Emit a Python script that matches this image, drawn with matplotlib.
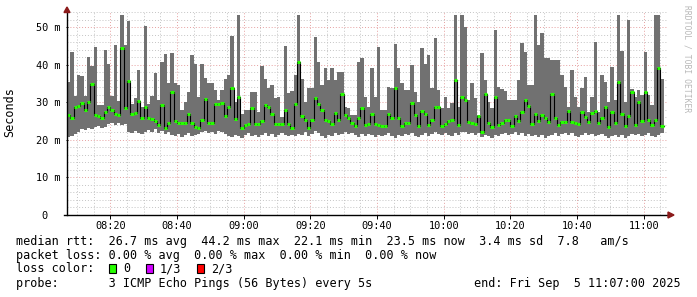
import matplotlib
matplotlib.use("Agg")
import matplotlib.pyplot as plt
from matplotlib.patches import Polygon, Rectangle
import numpy as np

W, H = 697, 297

# time axis: one bar per minute starting at 08:07
start_min = 8 * 60 + 7
step_min = 1

# per-minute ping stats (ms)
ping_max = [
    35.5, 43.4, 31.6, 37.2, 37.0, 31.6, 42.1, 39.6, 44.8, 29.3,
    29.3, 43.9, 40.2, 31.6, 45.2, 30.4, 53.2, 45.2, 51.7, 29.6,
    31.0, 38.7, 28.8, 50.3, 29.6, 31.6, 37.7, 30.6, 40.8, 42.8,
    35.0, 43.0, 35.0, 34.7, 27.9, 30.1, 32.8, 42.6, 40.2, 31.3,
    40.2, 36.4, 35.0, 35.0, 33.3, 30.6, 33.3, 36.3, 37.2, 47.6,
    30.0, 53.2, 27.0, 27.9, 27.9, 32.8, 32.8, 27.5, 39.6, 36.1,
    33.7, 34.6, 31.0, 31.5, 26.1, 44.9, 32.4, 33.1, 37.2, 53.2,
    36.1, 30.0, 33.7, 33.7, 47.4, 40.8, 34.6, 39.0, 35.9, 39.0,
    35.9, 38.1, 38.1, 28.8, 28.4, 26.6, 26.6, 40.8, 41.7, 31.5,
    28.8, 39.0, 31.5, 44.8, 27.9, 27.9, 34.0, 33.7, 45.5, 39.0,
    35.0, 33.2, 33.2, 39.9, 32.8, 30.1, 44.3, 40.3, 42.6, 33.7,
    47.0, 33.2, 28.4, 31.5, 28.4, 29.7, 53.2, 28.8, 53.2, 50.1,
    30.6, 35.0, 31.0, 26.6, 43.0, 36.0, 30.1, 28.4, 49.2, 34.1,
    33.5, 33.1, 30.6, 30.6, 30.6, 35.9, 45.7, 43.4, 34.6, 34.6,
    53.2, 45.2, 48.3, 41.7, 41.7, 41.3, 41.1, 41.3, 37.2, 34.1,
    28.8, 38.7, 31.5, 28.8, 33.7, 36.6, 27.5, 31.5, 46.1, 27.5,
    37.2, 35.4, 30.1, 39.4, 30.6, 53.2, 43.7, 30.1, 52.0, 33.6,
    31.5, 33.2, 31.9, 43.4, 31.9, 29.3, 53.2, 53.2, 36.1,
]
ping_med = [
    26.6, 25.7, 28.8, 29.1, 29.9, 27.9, 30.0, 34.8, 26.6, 26.3,
    25.9, 27.5, 28.8, 27.9, 26.9, 26.6, 44.3, 28.4, 35.7, 27.0,
    27.2, 30.4, 25.7, 28.8, 25.7, 25.5, 25.0, 23.9, 29.3, 23.1,
    24.6, 32.6, 25.0, 24.4, 24.6, 24.6, 27.0, 24.5, 23.3, 23.1,
    25.2, 30.8, 24.6, 24.4, 29.6, 29.6, 29.9, 26.3, 28.8, 33.9,
    25.5, 31.5, 23.1, 23.9, 24.2, 28.4, 24.2, 24.2, 25.1, 29.3,
    28.6, 27.0, 24.1, 24.1, 24.1, 27.8, 24.1, 23.2, 29.4, 40.8,
    26.3, 25.2, 23.1, 25.3, 31.2, 29.5, 27.9, 25.3, 25.1, 24.2,
    27.2, 25.4, 32.1, 26.6, 25.7, 24.6, 23.7, 25.7, 28.4, 23.9,
    24.2, 27.0, 24.2, 23.9, 23.7, 23.7, 26.8, 25.7, 33.7, 25.7,
    23.7, 24.6, 24.6, 29.9, 26.6, 23.7, 27.7, 26.9, 23.9, 25.3,
    28.8, 28.6, 23.7, 24.2, 25.0, 25.4, 35.9, 23.9, 31.3, 30.6,
    24.8, 24.6, 24.2, 26.3, 22.2, 32.1, 24.4, 23.5, 31.5, 23.9,
    24.4, 25.3, 25.4, 23.7, 26.3, 25.1, 27.5, 30.6, 29.0, 24.2,
    26.9, 25.1, 26.6, 25.7, 24.8, 32.1, 25.9, 23.9, 24.8, 24.8,
    27.7, 24.8, 24.4, 24.2, 27.5, 26.2, 24.8, 27.2, 27.7, 24.6,
    25.7, 28.8, 23.5, 27.5, 24.6, 35.5, 27.0, 23.7, 26.3, 32.8,
    23.9, 30.0, 25.1, 32.6, 25.3, 23.9, 25.4, 39.0, 23.6,
]
ping_min = [
    20.8, 21.0, 21.6, 22.2, 22.9, 22.6, 23.1, 22.8, 23.4, 23.6,
    23.2, 23.5, 24.2, 24.5, 24.0, 24.4, 23.9, 24.3, 22.0, 21.7,
    22.3, 21.9, 21.5, 22.1, 22.6, 22.2, 22.8, 21.9, 22.4, 21.6,
    22.1, 21.2, 21.0, 21.5, 20.8, 21.3, 21.7, 20.9, 21.2, 21.6,
    22.0, 22.3, 21.8, 22.2, 21.6, 22.4, 22.0, 21.5, 21.0, 20.7,
    21.2, 20.9, 20.6, 21.3, 21.8, 21.0, 21.4, 20.8, 21.2, 21.7,
    21.1, 21.5, 20.7, 21.3, 21.9, 21.2, 20.9, 21.4, 21.0, 21.6,
    21.3, 22.0, 21.1, 21.5, 22.3, 21.7, 21.0, 20.6, 21.4, 21.1,
    21.8, 21.3, 21.6, 22.1, 21.5, 21.9, 21.2, 20.8, 21.5, 21.0,
    21.6, 21.2, 20.7, 21.3, 20.9, 21.4, 21.8, 21.1, 20.6, 21.3,
    20.9, 21.5, 21.2, 21.7, 21.0, 20.8, 21.4, 21.9, 21.1, 21.5,
    22.0, 21.6, 21.2, 21.8, 21.4, 21.0, 21.7, 21.3, 22.2, 22.0,
    21.5, 21.9, 21.3, 21.7, 20.8, 21.4, 21.0, 20.6, 21.2, 20.9,
    21.5, 21.8, 21.2, 21.6, 22.0, 21.3, 21.7, 21.1, 21.5, 20.9,
    21.3, 20.8, 21.2, 20.6, 21.0, 21.4, 21.7, 21.1, 21.5, 21.9,
    21.3, 21.7, 21.0, 20.7, 21.4, 21.8, 21.2, 21.5, 20.9, 21.3,
    21.6, 21.1, 20.6, 21.0, 21.4, 20.8, 21.2, 20.6, 21.0, 21.5,
    21.2, 21.6, 21.0, 21.4, 21.8, 21.1, 20.7, 21.2, 21.9,
]

time_labels = ["08:20", "08:40", "09:00", "09:20", "09:40", "10:00", "10:20", "10:40", "11:00"]
ytick_vals = [0, 10, 20, 30, 40, 50]
ytick_labels = ["0  ", "10 m", "20 m", "30 m", "40 m", "50 m"]

legend_rtt = "median rtt:  26.7 ms avg  44.2 ms max  22.1 ms min  23.5 ms now  3.4 ms sd  7.8   am/s"
legend_loss = "packet loss: 0.00 % avg  0.00 % max  0.00 % min  0.00 % now"
loss_labels = ["0", "1/3", "2/3"]
loss_colors = ["#26ff00", "#d000ff", "#ff0000"]
probe_text = "probe:       3 ICMP Echo Pings (56 Bytes) every 5s"
end_text = "end: Fri Sep  5 11:07:00 2025"

plt.rcParams["font.family"] = ["DejaVu Sans Mono"]


def fx(px):
    return px / W


def fy(py):
    return 1 - py / H


fig = plt.figure(figsize=(W / 100, H / 100), dpi=100)
fig.patch.set_facecolor("white")
ax = fig.add_axes([fx(67), fy(215), 600 / W, 203 / H])

# smoke + median
n = len(ping_med)
t = start_min + step_min * np.arange(n)
te = np.append(t, t[-1] + step_min)
lo = np.append(ping_min, ping_min[-1])
hi = np.append(ping_max, ping_max[-1])
med = np.array(ping_med)
ax.fill_between(te, lo, hi, step="post", color="#717171", lw=0, zorder=2)
ax.step(te, np.append(med, med[-1]), where="post", color="black", lw=0.8, zorder=3)
ax.hlines(med, t, t + step_min, colors=loss_colors[0], lw=2.2, zorder=4)

ax.set_xlim(start_min, start_min + 180)
ax.set_ylim(0, 54)

major_x = [int(s[:2]) * 60 + int(s[3:]) for s in time_labels]
ax.set_xticks(major_x)
ax.set_xticklabels(time_labels)
ax.set_xticks(np.arange(490, start_min + 181, 5), minor=True)
ax.set_yticks(ytick_vals)
ax.set_yticklabels(ytick_labels)
ax.set_yticks(np.arange(0, 55, 2), minor=True)

ax.grid(which="minor", color="#c4c4c4", ls=(0, (1, 2)), lw=0.7)
ax.grid(which="major", color="#e6a0a0", ls=(0, (1, 2)), lw=0.7)
ax.set_axisbelow(True)

for s in ax.spines.values():
    s.set_visible(False)
ax.tick_params(axis="x", which="major", direction="out", length=3, width=0.7,
               pad=1.3, labelsize=7.4)
ax.tick_params(axis="y", which="major", direction="inout", length=2, width=0.7,
               pad=4, labelsize=7.4)
ax.tick_params(which="minor", length=0)

# axis lines with arrows
ax.plot([0, 0], [0, 1.0], transform=ax.transAxes, color="black", lw=1,
        clip_on=False, zorder=5)
ax.plot([-0.005, 1.002], [0, 0], transform=ax.transAxes, color="black", lw=1,
        clip_on=False, zorder=5)
fig.add_artist(Polygon([(fx(67), fy(7)), (fx(64), fy(12.5)), (fx(70), fy(12.5))],
                       closed=True, color="#8b1a1a", transform=fig.transFigure))
fig.add_artist(Polygon([(fx(674), fy(215)), (fx(668), fy(212)), (fx(668), fy(218))],
                       closed=True, color="#8b1a1a", transform=fig.transFigure))

fig.text(fx(10), fy(112), "Seconds", rotation=90, ha="center", va="center", fontsize=8.45)
fig.text(fx(687), fy(5), "RRDTOOL / TOBI OETIKER", rotation=270, ha="center", va="top",
         fontsize=5.8, color="#b8b8b8")

# legend block
fig.text(fx(16), fy(245), legend_rtt, ha="left", va="baseline", fontsize=8.45)
fig.text(fx(16), fy(259), legend_loss, ha="left", va="baseline", fontsize=8.45)
fig.text(fx(16), fy(272.5), "loss color:", ha="left", va="baseline", fontsize=8.45)
box_x = [109, 146, 197]
lab_x = [123, 160, 211]
for bx, lx, lab, col in zip(box_x, lab_x, loss_labels, loss_colors):
    fig.add_artist(Rectangle((fx(bx), fy(273)), 7 / W, 9 / H, facecolor=col,
                             edgecolor="black", lw=0.8, transform=fig.transFigure))
    fig.text(fx(lx), fy(272.5), lab, ha="left", va="baseline", fontsize=8.45)
fig.text(fx(16), fy(286.5), probe_text, ha="left", va="baseline", fontsize=8.45)
fig.text(fx(681), fy(286.5), end_text, ha="right", va="baseline", fontsize=8.45)

fig.savefig("out.png", dpi=100)
